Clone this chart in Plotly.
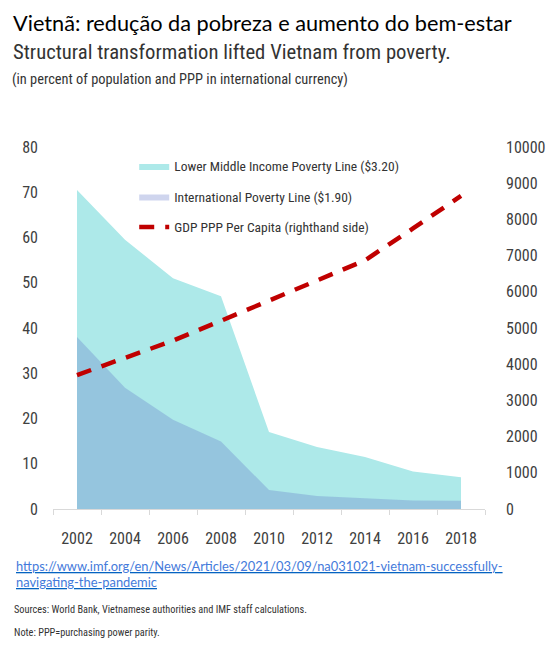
import plotly.graph_objects as go

years = [2002, 2004, 2006, 2008, 2010, 2012, 2014, 2016, 2018]
lower_middle_320 = [70.5, 59.5, 51.0, 47.0, 17.0, 13.7, 11.5, 8.3, 7.0]
intl_poverty_190 = [38.0, 26.8, 19.7, 14.9, 4.2, 2.9, 2.4, 1.9, 1.8]
gdp_ppp_pc = [3700, 4170, 4650, 5200, 5750, 6300, 6870, 7750, 8650]

left_ticks = list(range(0, 90, 10))
right_ticks = list(range(0, 11000, 1000))
right_tick_labels = [str(v) for v in right_ticks]
x_tick_labels = [str(y) for y in years]

NARROW = "Liberation Sans Narrow, Roboto Condensed, Arial Narrow, Roboto, sans-serif"
TICK_COLOR = "#404040"

# the page body adds an 8px offset; figure coords = reference pixels - 8
OFF = 8
W, H = 558 - OFF, 645 - OFF
PL, PR, PT, PB = 53 - OFF, 495 - OFF, 147 - OFF, 509 - OFF

fig = go.Figure()
fig.add_trace(go.Scatter(
    x=years, y=lower_middle_320, name="Lower Middle Income Poverty Line ($3.20)",
    mode="lines", line=dict(width=0, color="#ADE9E9"), fill="tozeroy",
    fillcolor="#ADE9E9", legendgroup="a", yaxis="y"))
fig.add_trace(go.Scatter(
    x=years, y=intl_poverty_190, name="International Poverty Line ($1.90)",
    mode="lines", line=dict(width=0, color="rgba(97,117,200,0.3)"), fill="tozeroy",
    fillcolor="rgba(97,117,200,0.3)", legendgroup="b", yaxis="y"))
fig.add_trace(go.Scatter(
    x=years, y=gdp_ppp_pc, name="GDP PPP Per Capita (righthand side)",
    mode="lines", line=dict(width=4.5, color="#C00000", dash="15px,11px"),
    legendgroup="c", yaxis="y2"))

fig.update_layout(
    width=W, height=H,
    margin=dict(l=PL, r=W - PR, t=PT, b=H - PB),
    paper_bgcolor="white", plot_bgcolor="white",
    showlegend=True,
    legend=dict(x=0.188, y=0.99, xanchor="left", yanchor="top",
                bgcolor="rgba(0,0,0,0)", tracegroupgap=10,
                font=dict(family=NARROW, size=13.5, color="#333333")),
    xaxis=dict(range=[2001, 2019], tickvals=years, ticktext=x_tick_labels,
               showline=True, linecolor="#D9D9D9", linewidth=1,
               showgrid=False, zeroline=False, ticks="",
               ticklabelstandoff=15,
               minor=dict(tick0=2001, dtick=2, ticks="outside", ticklen=5,
                          tickcolor="#D9D9D9", showgrid=False),
               tickfont=dict(family=NARROW, size=16, color=TICK_COLOR)),
    yaxis=dict(range=[0, 80], tickvals=left_ticks, showgrid=False, zeroline=False,
               showline=False, ticks="", ticklabelstandoff=14,
               tickfont=dict(family=NARROW, size=16, color=TICK_COLOR)),
    yaxis2=dict(range=[0, 10000], tickvals=right_ticks, ticktext=right_tick_labels,
                overlaying="y", side="right",
                showgrid=False, zeroline=False, showline=False, ticks="",
                ticklabelstandoff=20,
                tickfont=dict(family=NARROW, size=16, color=TICK_COLOR)),
)

def px_to_paper(px, py):
    px, py = px - OFF, py - OFF
    return (px - PL) / (PR - PL), (PB - py) / (PB - PT)

# title: anchored at the very top edge of the figure
xt, yt = px_to_paper(10, OFF)
fig.add_annotation(x=xt, y=yt, xref="paper", yref="paper",
                   text="Vietnã: redução da pobreza e aumento do bem-estar",
                   showarrow=False, xanchor="left", yanchor="top",
                   font=dict(family="Lato, Open Sans, sans-serif", size=21.7, color="black"))

texts = [
    (10, 52, "Structural transformation lifted Vietnam from poverty.",
     dict(family=NARROW, size=20.7, color="#333333")),
    (9, 80, "(in percent of population and PPP in international currency)",
     dict(family=NARROW, size=14.4, color="#333333")),
    (11, 609, "Sources: World Bank, Vietnamese authorities and IMF staff calculations.",
     dict(family=NARROW, size=10.3, color="#333333")),
    (11, 632, "Note: PPP=purchasing power parity.",
     dict(family=NARROW, size=10.3, color="#333333")),
]
for px, py, t, f in texts:
    xp, yp = px_to_paper(px, py)
    fig.add_annotation(x=xp, y=yp, xref="paper", yref="paper", text=t,
                       showarrow=False, xanchor="left", yanchor="middle", font=f)

link = "https://www.imf.org/en/News/Articles/2021/03/09/na031021-vietnam-successfully-navigating-the-pandemic"
for px, py, t in [(13, 566, "https://www.imf.org/en/News/Articles/2021/03/09/na031021-vietnam-successfully-"),
                  (13, 582, "navigating-the-pandemic")]:
    xp, yp = px_to_paper(px, py)
    fig.add_annotation(x=xp, y=yp, xref="paper", yref="paper",
                       text=f'<a href="{link}">{t}</a>',
                       showarrow=False, xanchor="left", yanchor="middle",
                       font=dict(family="Lato, Open Sans, sans-serif", size=12.9,
                                 color="#0563C1", lineposition="under"))

fig.write_html("out.html")
